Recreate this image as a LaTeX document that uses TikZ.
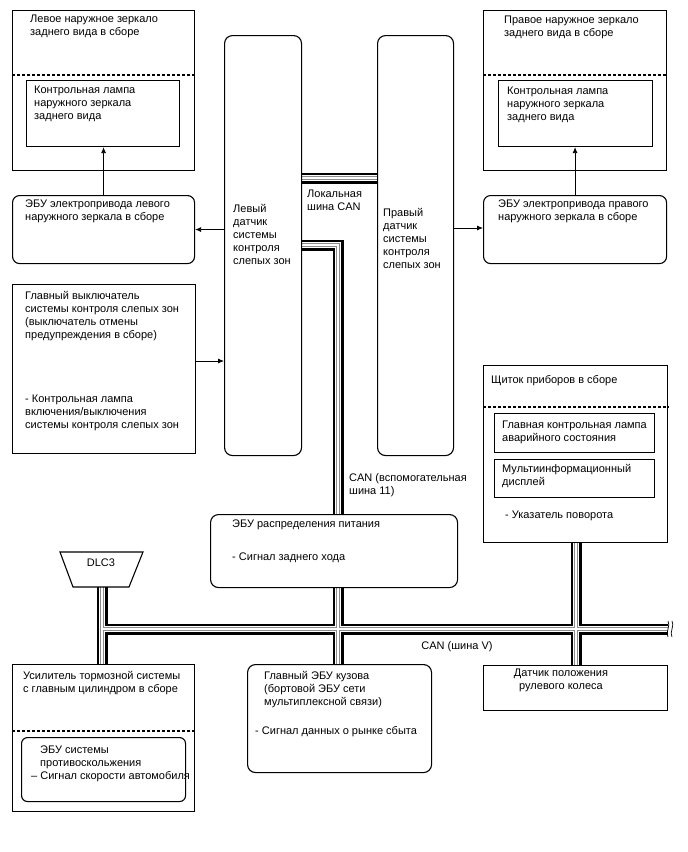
\documentclass[tikz,border=0pt]{standalone}
\usepackage{fontspec}
\setmainfont{Liberation Sans}
\usetikzlibrary{arrows.meta,calc}
\pgfdeclarelayer{bg}
\pgfsetlayers{bg,main}
\tikzset{
  box/.style={draw, line width=1.1pt, inner sep=0pt, anchor=north west},
  rbox/.style={box, rounded corners=7pt},
  txt/.style={anchor=base west, inner sep=0pt, align=left, font=\fontsize{11}{13}\selectfont},
  ctxt/.style={txt, anchor=base, align=center},
  arr/.style={line width=0.8pt, -{Latex[length=6pt,width=5pt]}},
  sepline/.style={line width=1.1pt, dash pattern=on 3pt off 2pt},
}
\newcommand\buspaths{%
  (sensorL.east |- 0,178) -- (sensorR.west |- 0,178)
  (sensorL.east |- 0,245) -| (pdu.north -| 338,0)
  (pdu.south -| 338,0) -- (body.north -| 338,0)
  (dlcb) -- (brake.north -| dlcb)
  (dlcb |- 0,629) -- (668,629)
  (cluster.south -| 576,0) -- (steer.north -| 576,0)}
\begin{document}
\begin{tikzpicture}[x=1pt,y=-1pt]
\useasboundingbox (0,0) rectangle (688,852);
% boxes (named)
\node[box, minimum width=182pt, minimum height=160pt] (mirL) at (12,10) {};
\node[box, minimum width=153pt, minimum height=66pt] (lampL) at (26,80) {};
\node[rbox, minimum width=182pt, minimum height=68pt] (ecuL) at (12,195) {};
\node[rbox, rounded corners=8pt, minimum width=77pt, minimum height=420pt] (sensorL) at (224,35) {};
\node[rbox, rounded corners=8pt, minimum width=76pt, minimum height=420pt] (sensorR) at (377,35) {};
\node[box, minimum width=183pt, minimum height=160pt] (mirR) at (483,10) {};
\node[box, minimum width=154pt, minimum height=66pt] (lampR) at (498,80) {};
\node[rbox, minimum width=183pt, minimum height=68pt] (ecuR) at (483,195) {};
\node[box, minimum width=183pt, minimum height=169pt] (sw) at (12,284) {};
\node[rbox, rounded corners=8pt, minimum width=247pt, minimum height=73pt] (pdu) at (210,514) {};
\node[box, minimum width=184pt, minimum height=177pt] (cluster) at (483,365) {};
\node[box, minimum width=160pt, minimum height=39pt] (cl1) at (494,413) {};
\node[box, minimum width=160pt, minimum height=38pt] (cl2) at (494,459) {};
\node[box, minimum width=182pt, minimum height=147pt] (brake) at (12,664) {};
\node[rbox, rounded corners=6pt, minimum width=164pt, minimum height=64pt] (brakeIn) at (21,737) {};
\node[rbox, rounded corners=8pt, minimum width=184pt, minimum height=108pt] (body) at (247,664) {};
\node[box, minimum width=184pt, minimum height=45pt] (steer) at (483,665) {};
% DLC3
\draw[line width=1.1pt] (60,552) -- (143,552) -- (129,587) -- (73,587) -- cycle;
\coordinate (dlcb) at (102,587);
\node[ctxt] (dlc) at (101,566) {DLC3};
% buses (behind the boxes)
\begin{pgfonlayer}{bg}
\foreach \w/\c in {11/black,6.4/white,3.2/black!45,1.2/white}
  \draw[line width=\w pt, \c, line join=miter] \buspaths;
\end{pgfonlayer}
% break marks
\draw[line width=0.7pt] (668,621) .. controls (671,625) and (665,633) .. (668,637);
\draw[line width=0.7pt] (672,621) .. controls (675,625) and (669,633) .. (672,637);
% separators
\draw[sepline] (mirL.west |- 0,75) -- (mirL.east |- 0,75);
\draw[sepline] (mirR.west |- 0,75) -- (mirR.east |- 0,75);
\draw[sepline] (cluster.west |- 0,407) -- (cluster.east |- 0,407);
\draw[sepline] (brake.west |- 0,731) -- (brake.east |- 0,731);
% arrows
\draw[arr] (ecuL.north) -- (ecuL.north |- lampL.south);
\draw[arr] (ecuR.north) -- (ecuR.north |- lampR.south);
\draw[arr] (sensorL.west |- ecuL.east) -- (ecuL.east);
\draw[arr] (sensorR.east |- 0,228) -- (ecuR.west |- 0,228);
\draw[arr] (sw.east |- 0,361) -- (sensorL.west |- 0,361);
% texts (anchored at the baseline of the last line)
\node[txt] (tMirL) at (30,35) {Левое наружное зеркало\\заднего вида в сборе};
\node[txt] (tLampL) at (34,119) {Контрольная лампа\\наружного зеркала\\заднего вида};
\node[txt] (tEcuL) at (25,220) {ЭБУ электропривода левого\\наружного зеркала в сборе};
\node[txt] (tSenL) at (233,264) {Левый\\датчик\\системы\\контроля\\слепых зон};
\node[txt] (tLoc) at (307,210) {Локальная\\шина CAN};
\node[txt] (tSenR) at (383,268) {Правый\\датчик\\системы\\контроля\\слепых зон};
\node[txt] (tMirR) at (504,36) {Правое наружное зеркало\\заднего вида в сборе};
\node[txt] (tLampR) at (507,120) {Контрольная лампа\\наружного зеркала\\заднего вида};
\node[txt] (tEcuR) at (498,220) {ЭБУ электропривода правого\\наружного зеркала в сборе};
\node[txt] (tSw) at (25,338) {Главный выключатель\\системы контроля слепых зон\\(выключатель отмены\\предупреждения в сборе)};
\node[txt] (tSw2) at (25,428) {- Контрольная лампа\\включения/выключения\\системы контроля слепых зон};
\node[txt] (tAux) at (349,494) {CAN (вспомогательная\\шина 11)};
\node[txt] (tPdu) at (232,527) {ЭБУ распределения питания};
\node[txt] (tPdu2) at (232,560) {- Сигнал заднего хода};
\node[txt] (tCl) at (491,383) {Щиток приборов в сборе};
\node[txt] (tCl1) at (502,441) {Главная контрольная лампа\\аварийного состояния};
\node[txt] (tCl2) at (502,485) {Мультиинформационный\\дисплей};
\node[txt] (tCl3) at (505,518) {- Указатель поворота};
\node[ctxt] (tCanV) at (457,649) {CAN (шина V)};
\node[txt] (tBr) at (23,692) {Усилитель тормозной системы\\с главным цилиндром в сборе};
\node[txt] (tBr2) at (40,766) {ЭБУ системы\\противоскольжения};
\node[txt] (tBr3) at (31,779) {– Сигнал скорости автомобиля};
\node[txt] (tBody) at (264,705) {Главный ЭБУ кузова\\(бортовой ЭБУ сети\\мультиплексной связи)};
\node[txt] (tBody2) at (255,734) {- Сигнал данных о рынке сбыта};
\node[ctxt] (tSt) at (561,689) {Датчик положения\\рулевого колеса};
\end{tikzpicture}
\end{document}
